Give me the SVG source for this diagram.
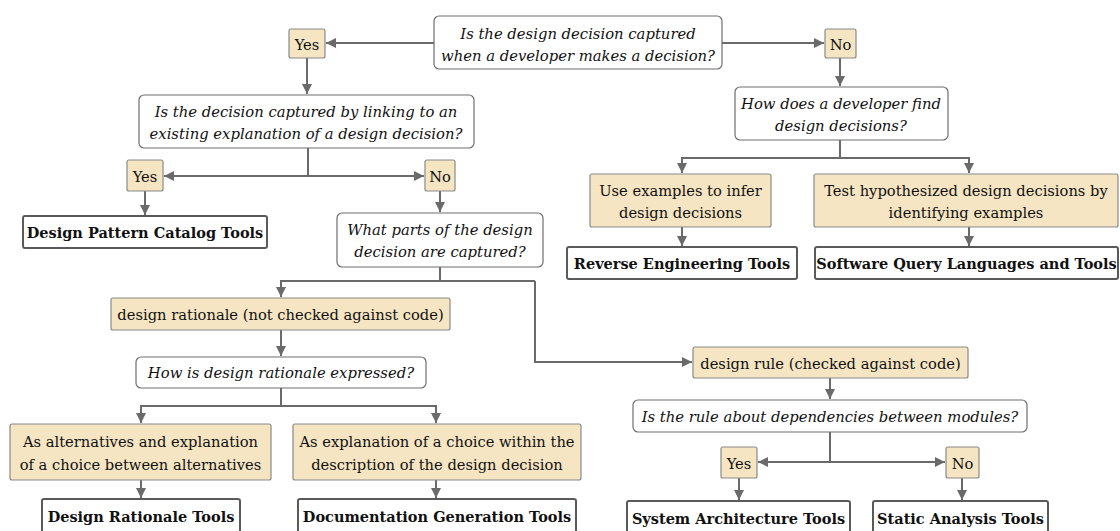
<svg xmlns="http://www.w3.org/2000/svg" width="1120" height="531" viewBox="0 0 1120 531">
  <style>
    text { font-family: "DejaVu Serif", serif; fill: #111; text-anchor: middle; }
    .q rect { fill: #ffffff; stroke: #6e6e6e; stroke-width: 1.2; }
    .q text { font-style: italic; font-size: 14.8px; }
    .a rect { fill: #f5e5c3; stroke: #8a8a8a; stroke-width: 1.2; }
    .a text { font-size: 14.7px; }
    .t rect { fill: #ffffff; stroke: #5a5a5a; stroke-width: 2; }
    .t text { font-weight: bold; font-size: 14.5px; }
    #connectors path { fill: none; stroke: #6a6a6a; stroke-width: 2; }
  </style>
  <defs>
    <marker id="arrow" markerUnits="userSpaceOnUse" markerWidth="11" markerHeight="11" refX="10" refY="5" orient="auto">
      <path d="M0,0 L10,5 L0,10 z" fill="#6a6a6a"/>
    </marker>
  </defs>

  <rect width="1120" height="531" fill="#ffffff"/>

  <!-- connectors -->
  <g id="connectors">
    <path d="M434,43 H326" marker-end="url(#arrow)"/>
    <path d="M722,43 H824" marker-end="url(#arrow)"/>
    <path d="M307,58 V94" marker-end="url(#arrow)"/>
    <path d="M840,58 V86" marker-end="url(#arrow)"/>

    <path d="M308,148 V176"/>
    <path d="M308,176 H164" marker-end="url(#arrow)"/>
    <path d="M308,176 H424" marker-end="url(#arrow)"/>
    <path d="M145,191 V215" marker-end="url(#arrow)"/>
    <path d="M440,191 V212" marker-end="url(#arrow)"/>

    <path d="M440,267 V281"/>
    <path d="M535,281 H281 V297" marker-end="url(#arrow)"/>
    <path d="M535,281 V362 H692" marker-end="url(#arrow)"/>
    <path d="M281,330 V356" marker-end="url(#arrow)"/>
    <path d="M281,388 V406"/>
    <path d="M281,406 H141 V423" marker-end="url(#arrow)"/>
    <path d="M281,406 H436 V423" marker-end="url(#arrow)"/>
    <path d="M141,480 V498" marker-end="url(#arrow)"/>
    <path d="M436,480 V498" marker-end="url(#arrow)"/>

    <path d="M840,140 V158"/>
    <path d="M840,158 H682 V173" marker-end="url(#arrow)"/>
    <path d="M840,158 H969 V173" marker-end="url(#arrow)"/>
    <path d="M682,227 V246" marker-end="url(#arrow)"/>
    <path d="M969,227 V246" marker-end="url(#arrow)"/>

    <path d="M830,378 V399" marker-end="url(#arrow)"/>
    <path d="M830,432 V462"/>
    <path d="M830,462 H758" marker-end="url(#arrow)"/>
    <path d="M830,462 H945" marker-end="url(#arrow)"/>
    <path d="M739,478 V500" marker-end="url(#arrow)"/>
    <path d="M962,478 V500" marker-end="url(#arrow)"/>
  </g>

  <!-- questions -->
  <g id="q-captured" class="q">
    <rect x="434" y="16" width="288" height="53" rx="5"/>
    <text x="578" y="39">Is the design decision captured</text>
    <text x="578" y="61">when a developer makes a decision?</text>
  </g>
  <g id="q-linking" class="q">
    <rect x="139" y="95" width="335" height="53" rx="5"/>
    <text x="306" y="117">Is the decision captured by linking to an</text>
    <text x="306" y="139">existing explanation of a design decision?</text>
  </g>
  <g id="q-parts" class="q">
    <rect x="337" y="213" width="206" height="54" rx="5"/>
    <text x="440" y="235">What parts of the design</text>
    <text x="440" y="257">decision are captured?</text>
  </g>
  <g id="q-rationale" class="q">
    <rect x="136" y="357" width="290" height="31" rx="5"/>
    <text x="281" y="378">How is design rationale expressed?</text>
  </g>
  <g id="q-find" class="q">
    <rect x="735" y="87" width="213" height="53" rx="5"/>
    <text x="841" y="109">How does a developer find</text>
    <text x="841" y="131">design decisions?</text>
  </g>
  <g id="q-dependencies" class="q">
    <rect x="633" y="400" width="394" height="32" rx="5"/>
    <text x="830" y="422">Is the rule about dependencies between modules?</text>
  </g>

  <!-- answers -->
  <g id="a-yes1" class="a">
    <rect x="289" y="29" width="36" height="29" rx="2"/>
    <text x="307" y="50">Yes</text>
  </g>
  <g id="a-no1" class="a">
    <rect x="825" y="29" width="31" height="29" rx="2"/>
    <text x="840.5" y="50">No</text>
  </g>
  <g id="a-yes2" class="a">
    <rect x="127" y="160" width="36" height="31" rx="2"/>
    <text x="145" y="182">Yes</text>
  </g>
  <g id="a-no2" class="a">
    <rect x="425" y="160" width="30" height="31" rx="2"/>
    <text x="440" y="182">No</text>
  </g>
  <g id="a-design-rationale" class="a">
    <rect x="111" y="298" width="339" height="32" rx="2"/>
    <text x="280.5" y="320">design rationale (not checked against code)</text>
  </g>
  <g id="a-design-rule" class="a">
    <rect x="693" y="347" width="275" height="31" rx="2"/>
    <text x="830.5" y="369">design rule (checked against code)</text>
  </g>
  <g id="a-alternatives" class="a">
    <rect x="10" y="424" width="261" height="56" rx="2"/>
    <text x="140.5" y="447">As alternatives and explanation</text>
    <text x="140.5" y="470">of a choice between alternatives</text>
  </g>
  <g id="a-explanation" class="a">
    <rect x="293" y="424" width="288" height="56" rx="2"/>
    <text x="437" y="447">As explanation of a choice within the</text>
    <text x="437" y="470">description of the design decision</text>
  </g>
  <g id="a-infer" class="a">
    <rect x="590" y="174" width="181" height="53" rx="2"/>
    <text x="680.5" y="196">Use examples to infer</text>
    <text x="680.5" y="218">design decisions</text>
  </g>
  <g id="a-hypothesize" class="a">
    <rect x="814" y="174" width="304" height="53" rx="2"/>
    <text x="966" y="196">Test hypothesized design decisions by</text>
    <text x="966" y="218">identifying examples</text>
  </g>
  <g id="a-yes3" class="a">
    <rect x="721" y="447" width="36" height="31" rx="2"/>
    <text x="739" y="469">Yes</text>
  </g>
  <g id="a-no3" class="a">
    <rect x="946" y="447" width="33" height="31" rx="2"/>
    <text x="962.5" y="469">No</text>
  </g>

  <!-- tool categories -->
  <g id="t-pattern" class="t">
    <rect x="23" y="216" width="244" height="32" rx="2"/>
    <text x="145" y="238">Design Pattern Catalog Tools</text>
  </g>
  <g id="t-reverse" class="t">
    <rect x="567" y="247" width="230" height="32" rx="2"/>
    <text x="682" y="269">Reverse Engineering Tools</text>
  </g>
  <g id="t-query" class="t">
    <rect x="815" y="247" width="303" height="32" rx="2"/>
    <text x="966.5" y="269">Software Query Languages and Tools</text>
  </g>
  <g id="t-rationale" class="t">
    <rect x="42" y="499" width="198" height="36" rx="2"/>
    <text x="141" y="522">Design Rationale Tools</text>
  </g>
  <g id="t-docgen" class="t">
    <rect x="298" y="499" width="278" height="36" rx="2"/>
    <text x="437" y="522">Documentation Generation Tools</text>
  </g>
  <g id="t-architecture" class="t">
    <rect x="627" y="501" width="223" height="34" rx="2"/>
    <text x="738.5" y="524">System Architecture Tools</text>
  </g>
  <g id="t-static" class="t">
    <rect x="873" y="501" width="175" height="34" rx="2"/>
    <text x="960.5" y="524">Static Analysis Tools</text>
  </g>
</svg>
